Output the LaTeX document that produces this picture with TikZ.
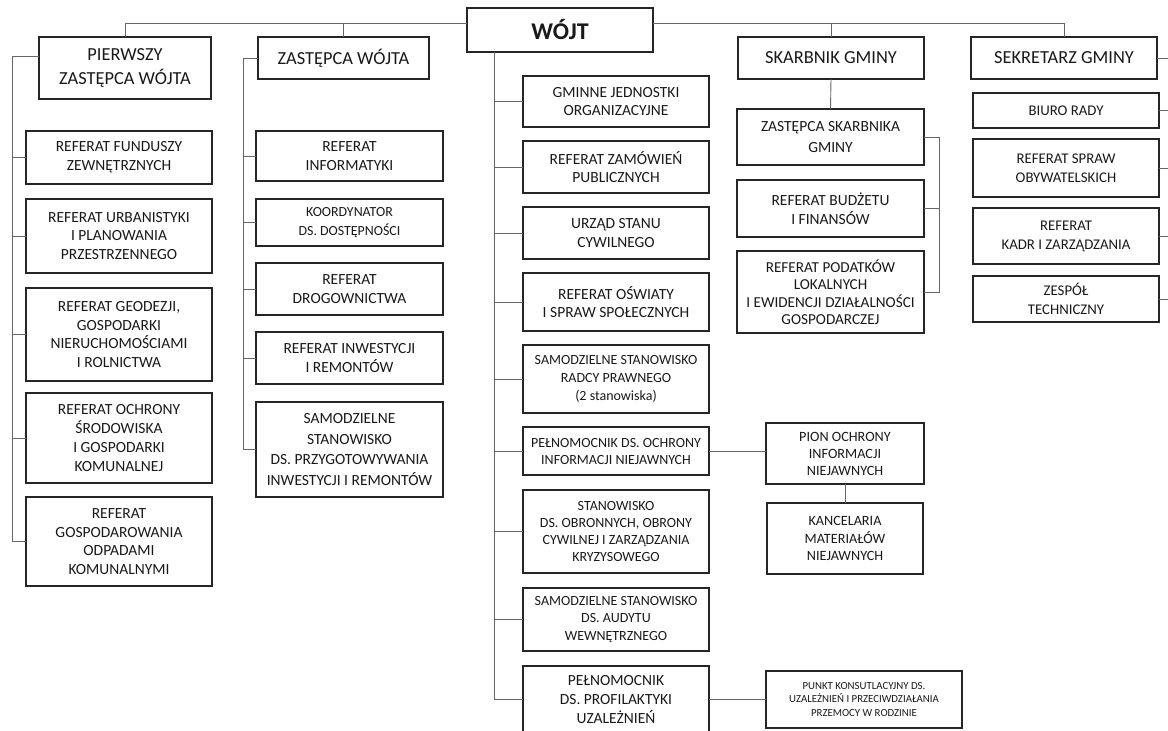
\documentclass[tikz,border=0pt]{standalone}
\usepackage{fontspec}
\setmainfont{Carlito}

\begin{document}
\begin{tikzpicture}[
    x=1pt, y=-1pt, % pixel-like units, y grows downwards
    box/.style={draw=black!85, line width=1.4pt, anchor=north west, inner sep=0pt, outer sep=0pt,
                align=center, text=black!90, font=\fontsize{15.5}{18.5}\selectfont}, % Unit boxes
    headbox/.style={box, font=\fontsize{18.4}{24}\selectfont}, % First row under the head
    smallbox/.style={box, font=\fontsize{14}{17.3}\selectfont}, % Boxes with smaller text
    colone/.style={box, minimum width=186, font=\fontsize{15.5}{18.8}\selectfont},
    coltwo/.style={box, minimum width=187, font=\fontsize{15.5}{19.5}\selectfont},
    colmid/.style={box, minimum width=186, font=\fontsize{15.5}{18.2}\selectfont},
    colskarb/.style={box, minimum width=187},
    colsekr/.style={box, minimum width=186, font=\fontsize{14.8}{19}\selectfont},
    conn/.style={draw=black!60, line width=0.9pt} % Connector lines
]

    \useasboundingbox (0,0) rectangle (1168,731);
    \clip (0,0) rectangle (1168,731);

    % --- Head and first row ---
    \node[headbox, minimum width=186, minimum height=44, font=\fontsize{24}{28}\selectfont\bfseries] (wojt) at (467,8) {WÓJT};
    \node[headbox, minimum width=172, minimum height=62] (pzw) at (39,37) {PIERWSZY\\ZASTĘPCA WÓJTA};
    \node[headbox, minimum width=171, minimum height=42] (zw) at (258,37) {ZASTĘPCA WÓJTA};
    \node[headbox, minimum width=186, minimum height=42] (skarb) at (738,37) {SKARBNIK GMINY};
    \node[headbox, minimum width=186, minimum height=42] (sekr) at (971,37) {SEKRETARZ GMINY};

    % --- Column of the first deputy ---
    \node[colone, minimum height=53] (fund) at (26,131) {REFERAT FUNDUSZY\\ZEWNĘTRZNYCH};
    \node[colone, minimum height=74] (urb) at (26,199) {REFERAT URBANISTYKI\\I PLANOWANIA\\PRZESTRZENNEGO};
    \node[colone, minimum height=93] (geo) at (26,288) {REFERAT GEODEZJI,\\GOSPODARKI\\NIERUCHOMOŚCIAMI\\I ROLNICTWA};
    \node[colone, minimum height=90] (och) at (26,393) {REFERAT OCHRONY\\ŚRODOWISKA\\I GOSPODARKI\\KOMUNALNEJ};
    \node[colone, minimum height=89] (odp) at (26,497) {REFERAT\\GOSPODAROWANIA\\ODPADAMI\\KOMUNALNYMI};

    % --- Column of the deputy ---
    \node[coltwo, minimum height=50] (inf) at (256,131) {REFERAT\\INFORMATYKI};
    \node[coltwo, minimum height=47, font=\fontsize{13.9}{19}\selectfont] (koord) at (256,199) {KOORDYNATOR\\DS. DOSTĘPNOŚCI};
    \node[coltwo, minimum height=52] (drog) at (256,263) {REFERAT\\DROGOWNICTWA};
    \node[coltwo, minimum height=52] (inw) at (256,332) {REFERAT INWESTYCJI\\I REMONTÓW};
    \node[coltwo, minimum height=95, font=\fontsize{15.5}{20.5}\selectfont] (przyg) at (256,402) {SAMODZIELNE\\STANOWISKO\\DS. PRZYGOTOWYWANIA\\INWESTYCJI I REMONTÓW};

    % --- Units under the head ---
    \node[colmid, minimum height=51] (gminne) at (523,76) {GMINNE JEDNOSTKI\\ORGANIZACYJNE};
    \node[colmid, minimum height=52] (zam) at (523,141) {REFERAT ZAMÓWIEŃ\\PUBLICZNYCH};
    \node[colmid, minimum height=52] (usc) at (523,207) {URZĄD STANU\\CYWILNEGO};
    \node[colmid, minimum height=58, font=\fontsize{15.5}{17.5}\selectfont] (osw) at (523,273) {REFERAT OŚWIATY\\I SPRAW SPOŁECZNYCH};
    \node[colmid, minimum height=68, font=\fontsize{14}{18.3}\selectfont] (radca) at (523,345) {SAMODZIELNE STANOWISKO\\RADCY PRAWNEGO\\(2 stanowiska)};
    \node[colmid, minimum height=48, font=\fontsize{14}{17}\selectfont] (pelnoch) at (523,427) {PEŁNOMOCNIK DS. OCHRONY\\INFORMACJI NIEJAWNYCH};
    \node[colmid, minimum height=83, font=\fontsize{14}{17}\selectfont] (obron) at (523,490) {STANOWISKO\\DS. OBRONNYCH, OBRONY\\CYWILNEJ I ZARZĄDZANIA\\KRYZYSOWEGO};
    \node[colmid, minimum height=63, font=\fontsize{14}{17.3}\selectfont] (audyt) at (523,588) {SAMODZIELNE STANOWISKO\\DS. AUDYTU\\WEWNĘTRZNEGO};
    \node[colmid, minimum height=67, font=\fontsize{15.5}{19}\selectfont] (profil) at (523,666) {PEŁNOMOCNIK\\DS. PROFILAKTYKI\\UZALEŻNIEŃ};

    \node[smallbox, minimum width=158, minimum height=61, font=\fontsize{14.2}{17}\selectfont] (pion) at (766,423) {PION OCHRONY\\INFORMACJI\\NIEJAWNYCH};
    \node[smallbox, minimum width=156, minimum height=71, font=\fontsize{14.2}{17.7}\selectfont] (kanc) at (767,503) {KANCELARIA\\MATERIAŁÓW\\NIEJAWNYCH};
    \node[smallbox, minimum width=196, minimum height=57, font=\fontsize{10.8}{13.7}\selectfont] (punkt) at (766,671) {PUNKT KONSUTLACYJNY DS.\\UZALEŻNIEŃ I PRZECIWDZIAŁANIA\\PRZEMOCY W RODZINIE};

    % --- Column of the treasurer ---
    \node[colskarb, minimum height=56, font=\fontsize{15.5}{21}\selectfont] (zskarb) at (737,109) {ZASTĘPCA SKARBNIKA\\GMINY};
    \node[colskarb, minimum height=57, font=\fontsize{15.5}{19}\selectfont] (budzet) at (737,180) {REFERAT BUDŻETU\\I FINANSÓW};
    \node[colskarb, minimum height=82, font=\fontsize{15.2}{17.5}\selectfont] (podat) at (737,251) {REFERAT PODATKÓW\\LOKALNYCH\\I EWIDENCJI DZIAŁALNOŚCI\\GOSPODARCZEJ};

    % --- Column of the secretary ---
    \node[colsekr, minimum height=35] (biuro) at (973,93) {BIURO RADY};
    \node[colsekr, minimum height=58] (spraw) at (973,139) {REFERAT SPRAW\\OBYWATELSKICH};
    \node[colsekr, minimum height=56] (kadr) at (973,208) {REFERAT\\KADR I ZARZĄDZANIA};
    \node[colsekr, minimum height=46] (zespol) at (973,276) {ZESPÓŁ\\TECHNICZNY};

    % --- Top bar ---
    \coordinate (bar) at (0,23);
    \draw[conn] (pzw.north) |- (wojt.west |- bar);
    \draw[conn] (zw.north) -- (zw.north |- bar);
    \draw[conn] (wojt.east |- bar) -| (sekr.north);
    \draw[conn] (skarb.north) -- (skarb.north |- bar);

    % --- Column lines ---
    \coordinate (c1) at (12,56);
    \draw[conn] (pzw.west |- c1) -- (c1) |- (odp.west);
    \foreach \n in {fund,urb,geo,och}
        \draw[conn] (c1 |- \n.west) -- (\n.west);

    \coordinate (c2) at (243,0);
    \draw[conn] (zw.west) -| (c2 |- przyg.west) -- (przyg.west);
    \foreach \n in {inf,koord,drog,inw}
        \draw[conn] (c2 |- \n.west) -- (\n.west);

    \coordinate (c3) at (494,0);
    \draw[conn] (wojt.south -| c3) |- (profil.west);
    \foreach \n in {gminne,zam,usc,osw,radca,pelnoch,obron,audyt}
        \draw[conn] (c3 |- \n.west) -- (\n.west);

    \draw[conn] (skarb.south) -- (zskarb.north);
    \coordinate (c4) at (939,0);
    \draw[conn] (zskarb.east) -| (c4 |- podat.east) -- (podat.east);
    \draw[conn] (c4 |- budzet.east) -- (budzet.east);

    \coordinate (c5) at (1185,0);
    \draw[conn] (sekr.east) -| (c5 |- zespol.east);
    \foreach \n in {biuro,spraw,kadr,zespol}
        \draw[conn] (\n.east) -- (c5 |- \n.east);

    % --- Side links ---
    \draw[conn] (pelnoch.east) -- (pion.west |- pelnoch.east);
    \draw[conn] (pion.south) -- (kanc.north);
    \draw[conn] (profil.east) -- (punkt.west);

\end{tikzpicture}
\end{document}
